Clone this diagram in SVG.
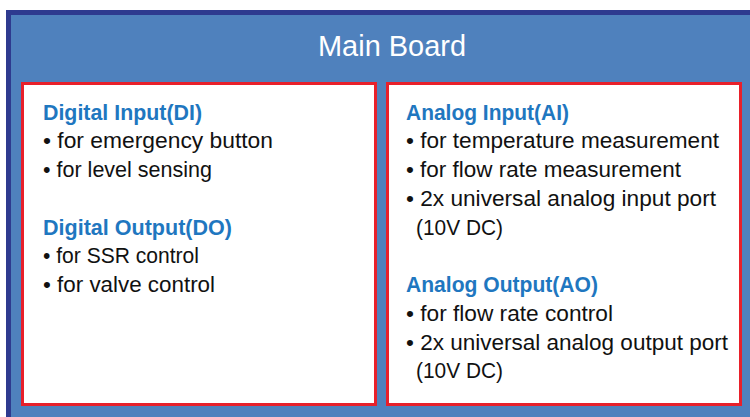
<svg xmlns="http://www.w3.org/2000/svg" width="750" height="417" viewBox="0 0 750 417">
<style>
.board{fill:#4f81bd;stroke:#2e3a8f;stroke-width:5}
.panel{fill:#ffffff;stroke:#e8202a;stroke-width:3}
.title{font-family:"Liberation Sans",Arial,sans-serif;font-size:30px;fill:#ffffff}
.h{font-family:"Liberation Sans",Arial,sans-serif;font-size:22px;font-weight:bold;fill:#1f77c0}
.t{font-family:"Liberation Sans",Arial,sans-serif;font-size:22px;fill:#111111}
</style>
<rect width="750" height="417" fill="#ffffff"/>
<g id="main-board">
<rect class="board" x="8.5" y="12.5" width="800" height="500"/>
<text class="title" x="318" y="56" textLength="148" lengthAdjust="spacingAndGlyphs">Main Board</text>
</g>
<g id="digital-panel">
<rect class="panel" x="22.5" y="83.5" width="353" height="321"/>
<text class="h" x="43" y="119.5" textLength="159" lengthAdjust="spacingAndGlyphs">Digital Input(DI)</text>
<text class="t" x="43" y="148.3" textLength="230" lengthAdjust="spacingAndGlyphs">• for emergency button</text>
<text class="t" x="43" y="177" textLength="169" lengthAdjust="spacingAndGlyphs">• for level sensing</text>
<text class="h" x="43" y="234.5" textLength="189" lengthAdjust="spacingAndGlyphs">Digital Output(DO)</text>
<text class="t" x="43" y="263.3" textLength="156" lengthAdjust="spacingAndGlyphs">• for SSR control</text>
<text class="t" x="43" y="292" textLength="172" lengthAdjust="spacingAndGlyphs">• for valve control</text>
</g>
<g id="analog-panel">
<rect class="panel" x="387.5" y="83.5" width="353" height="321"/>
<text class="h" x="406" y="119.5" textLength="163" lengthAdjust="spacingAndGlyphs">Analog Input(AI)</text>
<text class="t" x="406" y="148.3" textLength="313" lengthAdjust="spacingAndGlyphs">• for temperature measurement</text>
<text class="t" x="406" y="177" textLength="275" lengthAdjust="spacingAndGlyphs">• for flow rate measurement</text>
<text class="t" x="406" y="205.8" textLength="310" lengthAdjust="spacingAndGlyphs">• 2x universal analog input port</text>
<text class="t" x="416" y="234.5" textLength="87" lengthAdjust="spacingAndGlyphs">(10V DC)</text>
<text class="h" x="406" y="292" textLength="192" lengthAdjust="spacingAndGlyphs">Analog Output(AO)</text>
<text class="t" x="406" y="320.8" textLength="207" lengthAdjust="spacingAndGlyphs">• for flow rate control</text>
<text class="t" x="406" y="349.5" textLength="322" lengthAdjust="spacingAndGlyphs">• 2x universal analog output port</text>
<text class="t" x="416" y="378.3" textLength="87" lengthAdjust="spacingAndGlyphs">(10V DC)</text>
</g>
</svg>
